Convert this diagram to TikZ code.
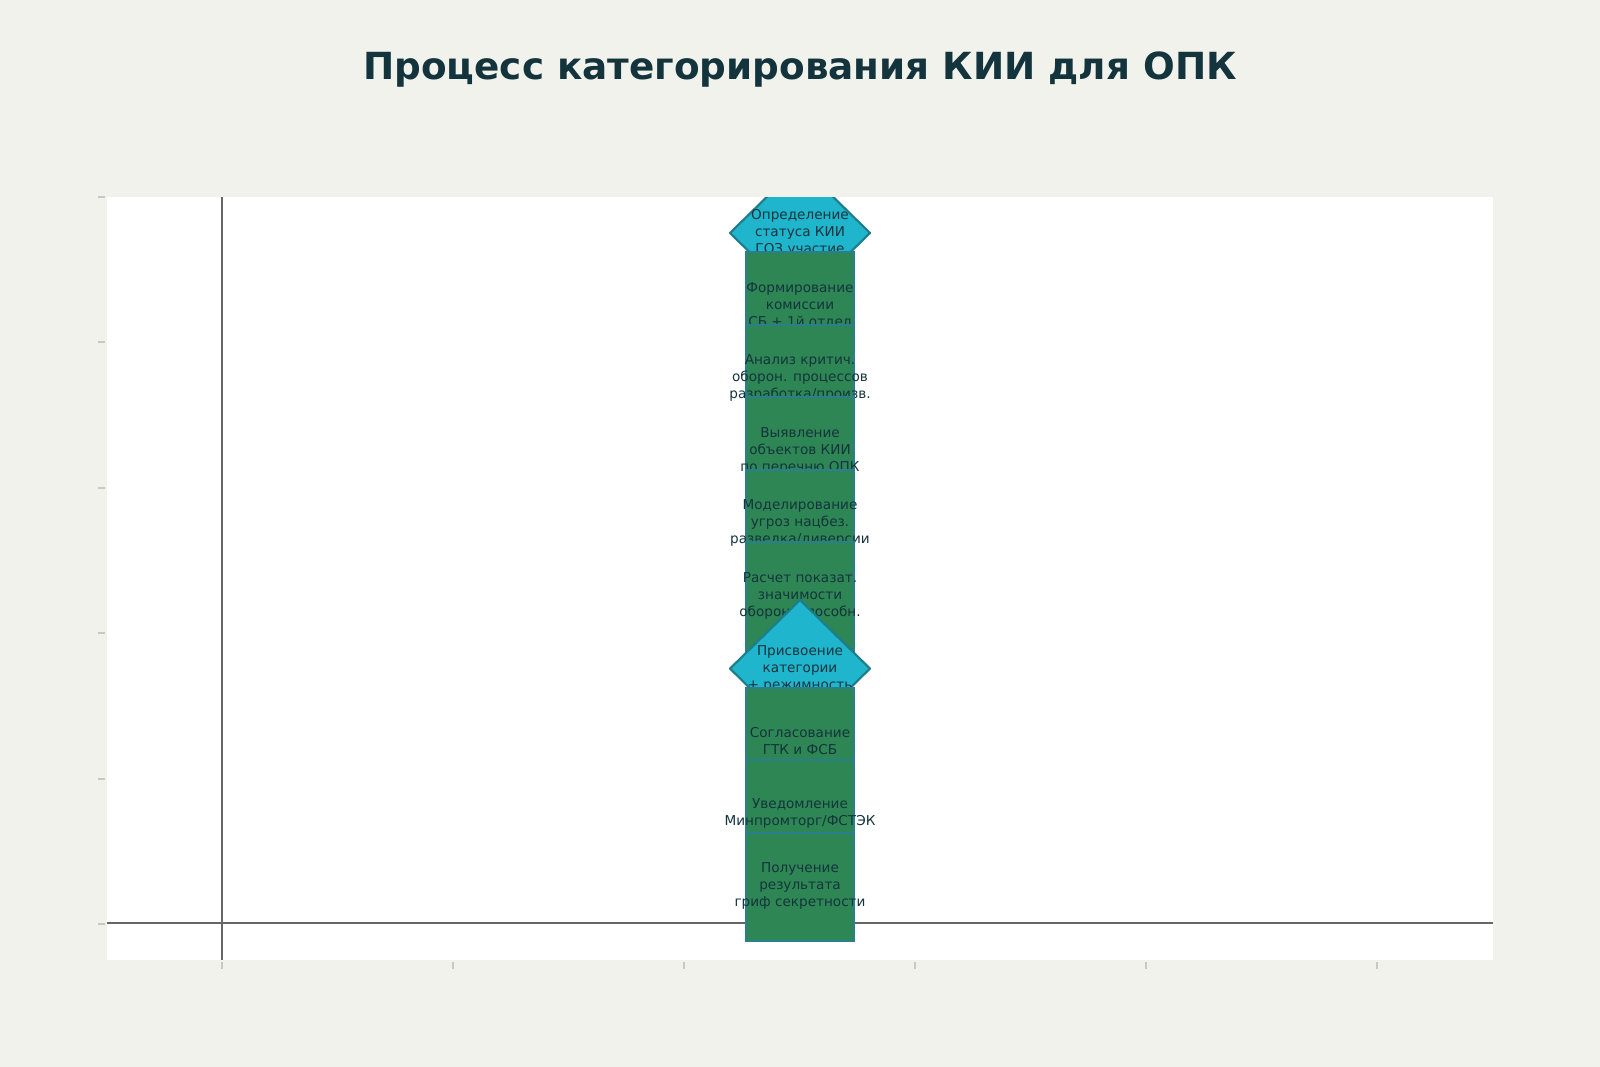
\documentclass[tikz,border=0pt]{standalone}
\usepackage{fontspec}
\setmainfont{DejaVu Sans}
\usepackage{tikz}
\usetikzlibrary{positioning}

\definecolor{bgpaper}{HTML}{F2F2EC}
\definecolor{inkdark}{HTML}{14343D}
\definecolor{stepgreen}{HTML}{2E8654}
\definecolor{stepedge}{HTML}{2A7F8F}
\definecolor{decfill}{HTML}{1FB5CC}
\definecolor{decedge}{HTML}{1E7D8C}
\definecolor{axisgray}{HTML}{666666}
\definecolor{tickgray}{HTML}{C8C8C8}

\tikzset{
	stepbox/.style={fill=stepgreen, draw=stepedge, line width=1.6pt},
	decbox/.style={fill=decfill, draw=decedge, line width=1.6pt, line join=round},
	steptext/.style={text=inkdark, align=center, inner sep=0pt, font=\fontsize{10.2pt}{12.75pt}\selectfont},
	axisline/.style={axisgray, line width=1.5pt},
	tickline/.style={tickgray, line width=1.5pt}
}

\begin{document}
\begin{tikzpicture}[x=0.75pt, y=-0.75pt]
	\fill[bgpaper] (0,0) rectangle (1600,1067);
	\useasboundingbox (0,0) rectangle (1600,1067);

	\node[text=inkdark, font=\fontsize{28pt}{34pt}\selectfont\bfseries] (title) at (800,70) {Процесс категорирования КИИ для ОПК};

	\fill[white] (107,197) rectangle (1493,960);

	% ticks
	\foreach \ty in {197,342.4,487.8,633.2,778.6,924} {
		\draw[tickline] (98,\ty) -- (105,\ty);
	};
	\foreach \tx in {222,453,684,915,1146,1377} {
		\draw[tickline] (\tx,962) -- (\tx,969);
	};

	% axes
	\draw[axisline] (222,197) -- (222,960);
	\draw[axisline] (107,923) -- (1493,923);

	\begin{scope}
		\clip (107,197) rectangle (1493,960);

		\filldraw[decbox] (800,164.4) -- (870,233) -- (800,301.6) -- (730,233) -- cycle;
		\node[steptext] (status) at (800,233) {Определение\\статуса КИИ\\ГОЗ участие};

		\filldraw[stepbox] (746,252) rectangle (854,324.6);
		\node[steptext] (commission) at (800,305.6) {Формирование\\комиссии\\СБ + 1й отдел};

		\filldraw[stepbox] (746,324.6) rectangle (854,397.2);
		\node[steptext] (analysis) at (800,378.2) {Анализ критич.\\оборон. процессов\\разработка/произв.};

		\filldraw[stepbox] (746,397.2) rectangle (854,469.8);
		\node[steptext] (objects) at (800,450.8) {Выявление\\объектов КИИ\\по перечню ОПК};

		\filldraw[stepbox] (746,469.8) rectangle (854,542.4);
		\node[steptext] (threats) at (800,523.4) {Моделирование\\угроз нацбез.\\разведка/диверсии};

		\filldraw[stepbox] (746,542.4) rectangle (854,668.6);
		\node[steptext] (calc) at (800,596) {Расчет показат.\\значимости\\обороноспособн.};

		\filldraw[decbox] (800,600) -- (870,668.6) -- (800,737.2) -- (730,668.6) -- cycle;
		\node[steptext] (category) at (800,668.6) {Присвоение\\категории\\+ режимность};

		\filldraw[stepbox] (746,687.6) rectangle (854,760.2);
		\node[steptext] (approval) at (800,741.2) {Согласование\\ГТК и ФСБ};

		\filldraw[stepbox] (746,760.2) rectangle (854,832.8);
		\node[steptext] (notice) at (800,813.8) {Уведомление\\Минпромторг/ФСТЭК};

		\filldraw[stepbox] (746,832.8) rectangle (854,941);
		\node[steptext] (result) at (800,886.4) {Получение\\результата\\гриф секретности};
	\end{scope}
\end{tikzpicture}
\end{document}
